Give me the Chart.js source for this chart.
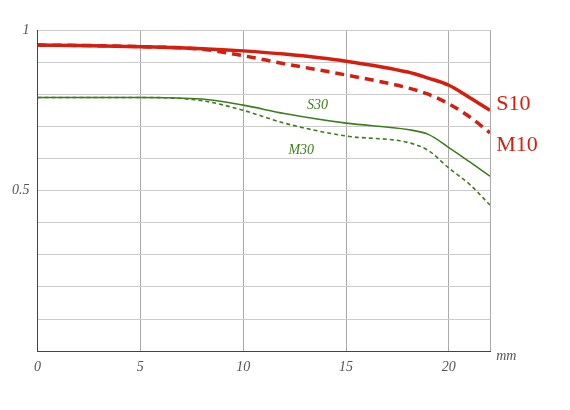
<!DOCTYPE html>
<html>
<head>
<script src="https://cdn.jsdelivr.net/npm/chart.js@4"></script>
<style>
  body { margin: 0; background: #fff; }
  #wrap { width: 570px; height: 410px; }
</style>
</head>
<body>
<div id="wrap"><canvas id="chart"></canvas></div>
<script>
const xs = [0, 2, 5, 8, 10, 12, 15, 18, 19, 20, 21, 22];
const s10 = [0.953, 0.952, 0.948, 0.942, 0.935, 0.925, 0.903, 0.869, 0.85, 0.828, 0.79, 0.75];
const m10 = [0.953, 0.952, 0.948, 0.94, 0.92, 0.895, 0.86, 0.82, 0.80, 0.77, 0.73, 0.68];
const s30 = [0.79, 0.79, 0.79, 0.785, 0.766, 0.74, 0.71, 0.69, 0.675, 0.634, 0.59, 0.545];
const m30 = [0.79, 0.79, 0.79, 0.78, 0.75, 0.71, 0.67, 0.65, 0.625, 0.57, 0.52, 0.455];
const lineNames = ["S10", "M10", "S30", "M30"];

const pts = arr => arr.map((v, i) => ({ x: xs[i], y: v }));

const labelPlugin = {
  id: "labels",
  afterDraw(chart) {
    const ctx = chart.ctx;
    const xS = chart.scales.x, yS = chart.scales.y;
    ctx.save();
    ctx.font = "22px 'Liberation Serif'";
    ctx.fillStyle = "#d41e0f";
    ctx.textBaseline = "middle";
    ctx.fillText(lineNames[0], xS.getPixelForValue(22.3), yS.getPixelForValue(0.77));
    ctx.fillText(lineNames[1], xS.getPixelForValue(22.3), yS.getPixelForValue(0.64));
    ctx.font = "italic 14px 'Liberation Serif'";
    ctx.fillStyle = "#3d7d1e";
    ctx.fillText(lineNames[2], xS.getPixelForValue(13.1), yS.getPixelForValue(0.765));
    ctx.fillText(lineNames[3], xS.getPixelForValue(12.2), yS.getPixelForValue(0.625));
    ctx.fillStyle = "#555";
    ctx.fillText("mm", xS.getPixelForValue(22.3), yS.getPixelForValue(-0.015));
    ctx.restore();
  }
};

new Chart(document.getElementById("chart"), {
  type: "line",
  data: {
    datasets: [
      { data: pts(s10), borderColor: "#d41e0f", borderWidth: 3.5 },
      { data: pts(m10), borderColor: "#d41e0f", borderWidth: 3.5, borderDash: [9, 6] },
      { data: pts(s30), borderColor: "#3d7d1e", borderWidth: 1.6 },
      { data: pts(m30), borderColor: "#3d7d1e", borderWidth: 1.6, borderDash: [4, 3] }
    ]
  },
  options: {
    responsive: true,
    maintainAspectRatio: false,
    animation: false,
    layout: { padding: { left: 4, right: 80, top: 30, bottom: 26 } },
    elements: { point: { radius: 0 }, line: { tension: 0.4, cubicInterpolationMode: "monotone" } },
    plugins: { legend: { display: false }, tooltip: { enabled: false } },
    scales: {
      x: {
        type: "linear", min: 0, max: 22,
        grid: { color: "#aaa", drawTicks: false },
        border: { color: "#444" },
        ticks: {
          stepSize: 5, padding: 8, color: "#555",
          font: { family: "Liberation Serif", style: "italic", size: 14 },
          callback: v => (v % 5 === 0 ? String(v) : "")
        }
      },
      y: {
        min: 0, max: 1,
        grid: { color: "#ccc", drawTicks: false },
        border: { color: "#444" },
        ticks: {
          stepSize: 0.1, padding: 8, color: "#555",
          font: { family: "Liberation Serif", style: "italic", size: 14 },
          callback: v => (Math.abs(v - 1) < 1e-6 ? "1" : Math.abs(v - 0.5) < 1e-6 ? "0.5" : "")
        }
      }
    }
  },
  plugins: [labelPlugin]
});
</script>
</body>
</html>
